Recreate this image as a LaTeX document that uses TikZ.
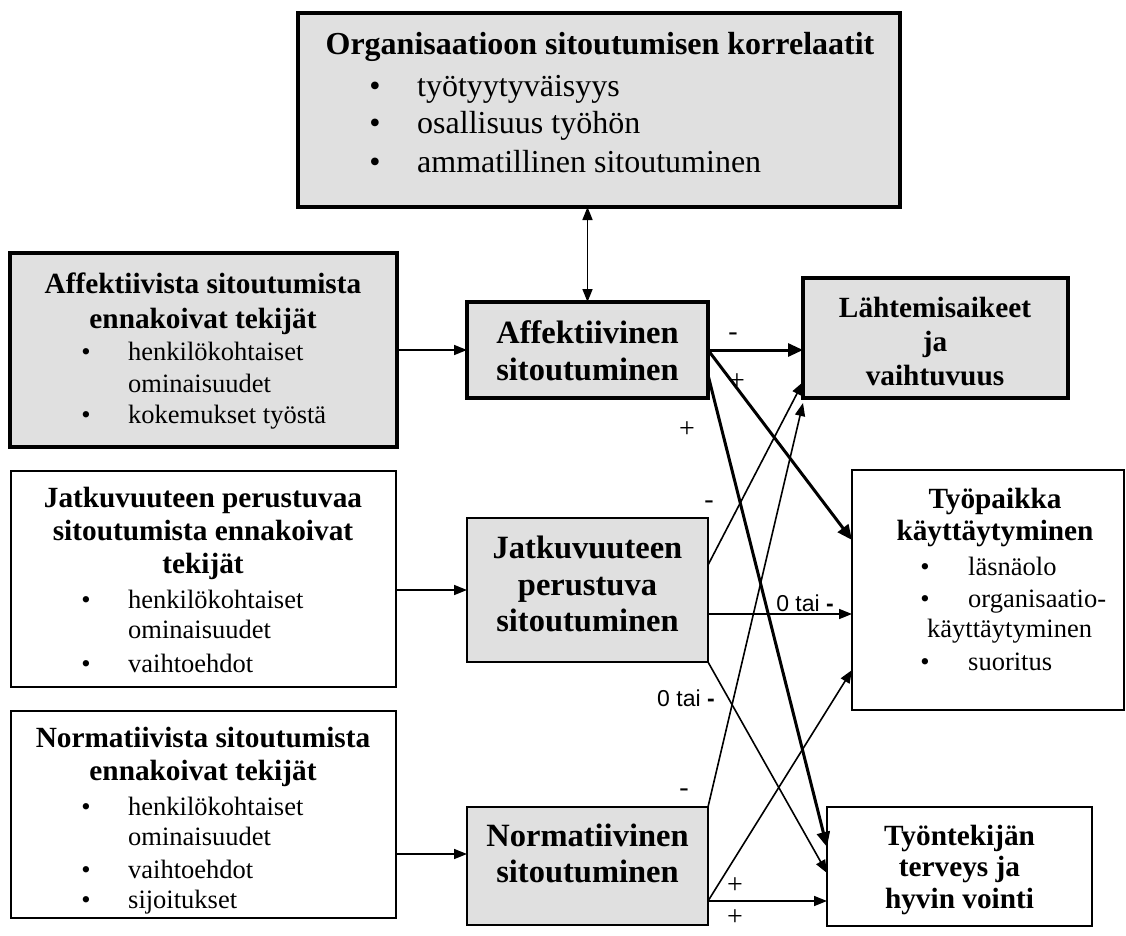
\documentclass[tikz,border=0pt]{standalone}
\usepackage{fontspec}
\setmainfont{Liberation Serif}
\newfontfamily\sansf{Liberation Sans}
\usetikzlibrary{arrows.meta}
\definecolor{boxgray}{RGB}{224,224,224}
\newcommand\fT{\fontsize{32}{36}\selectfont\bfseries}
\newcommand\fTr{\fontsize{32}{36}\selectfont}
\newcommand\fH{\fontsize{29.3}{34}\selectfont\bfseries}
\newcommand\fB{\fontsize{26.5}{30}\selectfont}
\newcommand\fM{\fontsize{32.5}{36}\selectfont\bfseries}
\newcommand\fS{\fontsize{23}{26}\selectfont\sansf}
\newcommand\fSign{\fontsize{28}{30}\selectfont}
\tikzset{
  thickbox/.style={draw, line width=3.2pt, fill=boxgray, inner sep=0pt, outer sep=0pt},
  thinbox/.style={draw, line width=1.7pt, inner sep=0pt, outer sep=0pt},
  graybox/.style={thinbox, fill=boxgray},
  txt/.style={inner sep=0pt, anchor=base},
  txtl/.style={inner sep=0pt, anchor=base west},
  bul/.style={inner sep=0pt, anchor=base},
  thinarrow/.style={line width=1.6pt, -{Triangle[length=13pt,width=10pt]}},
  dblarrow/.style={line width=1.6pt, {Triangle[length=13pt,width=10pt]}-{Triangle[length=13pt,width=10pt]}},
  thickarrow/.style={line width=3pt, -{Triangle[length=15pt,width=13pt]}},
  sign/.style={inner sep=0pt, font=\fSign},
  zero/.style={inner sep=0pt, font=\fS},
}
\begin{document}
\begin{tikzpicture}[x=1pt,y=-1pt]
\useasboundingbox (0,0) rectangle (1126,936);

% ---------- boxes ----------
\node[thickbox, minimum width=602pt, minimum height=194pt] (top) at (599,110) {};
\node[thickbox, minimum width=387pt, minimum height=194pt] (lb1) at (203.5,350) {};
\node[thinbox, minimum width=385pt, minimum height=216pt] (lb2) at (203.5,579) {};
\node[thinbox, minimum width=385pt, minimum height=207pt] (lb3) at (203.5,814.5) {};
\node[thickbox, minimum width=241pt, minimum height=96pt] (aff) at (587.5,350) {};
\node[graybox, minimum width=241pt, minimum height=144pt] (jat) at (587.5,590) {};
\node[graybox, minimum width=241pt, minimum height=118pt] (nor) at (587.5,866) {};
\node[thickbox, minimum width=265pt, minimum height=120pt] (lah) at (935.5,338) {};
\node[thinbox, minimum width=272pt, minimum height=240pt] (tp) at (988,590) {};
\node[thinbox, minimum width=265pt, minimum height=119pt] (tyo) at (959.5,866.5) {};

% ---------- top box text ----------
\node[txt, font=\fT] (t0) at (600,55) {Organisaatioon sitoutumisen korrelaatit};
\node[bul, font=\fTr] (b01) at (375,97) {•};
\node[txtl, font=\fTr] (t01) at (417,97) {työtyytyväisyys};
\node[bul, font=\fTr] (b02) at (375,134) {•};
\node[txtl, font=\fTr] (t02) at (417,134) {osallisuus työhön};
\node[bul, font=\fTr] (b03) at (375,172) {•};
\node[txtl, font=\fTr] (t03) at (417,172) {ammatillinen sitoutuminen};

% ---------- left box 1 ----------
\node[txt, font=\fH] (t11) at (203,293) {Affektiivista sitoutumista};
\node[txt, font=\fH] (t12) at (203,328) {ennakoivat tekijät};
\node[bul, font=\fB] (b11) at (86,360) {•};
\node[txtl, font=\fB] (t13) at (128,360) {henkilökohtaiset};
\node[txtl, font=\fB] (t14) at (128,392) {ominaisuudet};
\node[bul, font=\fB] (b12) at (86,423) {•};
\node[txtl, font=\fB] (t15) at (128,423) {kokemukset työstä};

% ---------- left box 2 ----------
\node[txt, font=\fH] (t21) at (203,507) {Jatkuvuuteen perustuvaa};
\node[txt, font=\fH] (t22) at (203,540) {sitoutumista ennakoivat};
\node[txt, font=\fH] (t23) at (203,573) {tekijät};
\node[bul, font=\fB] (b21) at (86,608) {•};
\node[txtl, font=\fB] (t24) at (128,608) {henkilökohtaiset};
\node[txtl, font=\fB] (t25) at (128,638) {ominaisuudet};
\node[bul, font=\fB] (b22) at (86,672) {•};
\node[txtl, font=\fB] (t26) at (128,672) {vaihtoehdot};

% ---------- left box 3 ----------
\node[txt, font=\fH] (t31) at (203,747) {Normatiivista sitoutumista};
\node[txt, font=\fH] (t32) at (203,780) {ennakoivat tekijät};
\node[bul, font=\fB] (b31) at (86,815) {•};
\node[txtl, font=\fB] (t33) at (128,815) {henkilökohtaiset};
\node[txtl, font=\fB] (t34) at (128,845) {ominaisuudet};
\node[bul, font=\fB] (b32) at (86,878) {•};
\node[txtl, font=\fB] (t35) at (128,878) {vaihtoehdot};
\node[bul, font=\fB] (b33) at (86,908) {•};
\node[txtl, font=\fB] (t36) at (128,908) {sijoitukset};

% ---------- middle boxes ----------
\node[txt, font=\fM] (m11) at (587.5,343) {Affektiivinen};
\node[txt, font=\fM] (m12) at (587.5,380) {sitoutuminen};
\node[txt, font=\fM] (m21) at (587.5,558) {Jatkuvuuteen};
\node[txt, font=\fM] (m22) at (587.5,595) {perustuva};
\node[txt, font=\fM] (m23) at (587.5,631) {sitoutuminen};
\node[txt, font=\fM] (m31) at (587.5,846) {Normatiivinen};
\node[txt, font=\fM] (m32) at (587.5,882) {sitoutuminen};

% ---------- right boxes ----------
\node[txt, font=\fH] (r11) at (935,317) {Lähtemisaikeet};
\node[txt, font=\fH] (r12) at (935,351) {ja};
\node[txt, font=\fH] (r13) at (935,385) {vaihtuvuus};

\node[txt, font=\fH] (r21) at (995,508) {Työpaikka};
\node[txt, font=\fH] (r22) at (995,540) {käyttäytyminen};
\node[bul, font=\fB] (b41) at (925,575) {•};
\node[txtl, font=\fB] (r23) at (968,575) {läsnäolo};
\node[bul, font=\fB] (b42) at (925,607) {•};
\node[txtl, font=\fB] (r24) at (968,607) {organisaatio-};
\node[txtl, font=\fB] (r25) at (927,637) {käyttäytyminen};
\node[bul, font=\fB] (b43) at (925,670) {•};
\node[txtl, font=\fB] (r26) at (968,670) {suoritus};

\node[txt, font=\fH] (r31) at (959.5,845) {Työntekijän};
\node[txt, font=\fH] (r32) at (959.5,876) {terveys ja};
\node[txt, font=\fH] (r33) at (959.5,908) {hyvin vointi};

% ---------- connectors ----------
\draw[dblarrow] (aff.north) -- (aff.north |- top.south);
\draw[thinarrow] (lb1.east) -- (aff.west);
\draw[thinarrow] (jat.west -| lb2.east) -- (jat.west);
\coordinate (n3) at ([yshift=12pt]nor.west);
\draw[thinarrow] (n3 -| lb3.east) -- (n3);

% thick arrows from Affektiivinen
\draw[thickarrow] (aff.east) -- (aff.east -| lah.west);
\coordinate (tpA) at ([yshift=50pt]tp.west);
\draw[thickarrow] (aff.east) -- (tpA);
\coordinate (aS) at ([yshift=23pt]aff.south east);
\coordinate (tyA) at ([yshift=19.5pt]tyo.west);
\draw[thickarrow] (aS) -- (tyA);

% thin arrows
\coordinate (jA) at ([yshift=25pt]jat.east);
\coordinate (lA) at ([yshift=16pt]lah.south west);
\draw[thinarrow] (jA) -- (lA);
\coordinate (jB) at ([yshift=-24pt]jat.east);
\draw[thinarrow] (jB) -- (jB -| tp.west);
\coordinate (tyB) at ([yshift=-6.5pt]tyo.west);
\draw[thinarrow] (jat.south east) -- (tyB);
\coordinate (lB) at ([yshift=-5pt]lah.south west);
\draw[thinarrow] (nor.north east) -- (lB);
\coordinate (nA) at ([yshift=-35pt]nor.east);
\coordinate (tpB) at ([yshift=-80pt]tp.west);
\draw[thinarrow] (nA) -- (tpB);
\draw[thinarrow] (nA) -- (nA -| tyo.west);

% ---------- labels ----------
\node[sign] (s1) at (733,337) {-};
\node[sign] (s2) at (737,382) {+};
\node[sign] (s3) at (687,430) {+};
\node[sign] (s4) at (709,505) {-};
\node[sign] (s5) at (684,793) {-};
\node[sign] (s6) at (735,886) {+};
\node[sign] (s7) at (735,918) {+};
\node[zero] (z1) at (805,603) {0 tai \textbf{-}};
\node[zero] (z2) at (686,698) {0 tai \textbf{-}};
\end{tikzpicture}
\end{document}
